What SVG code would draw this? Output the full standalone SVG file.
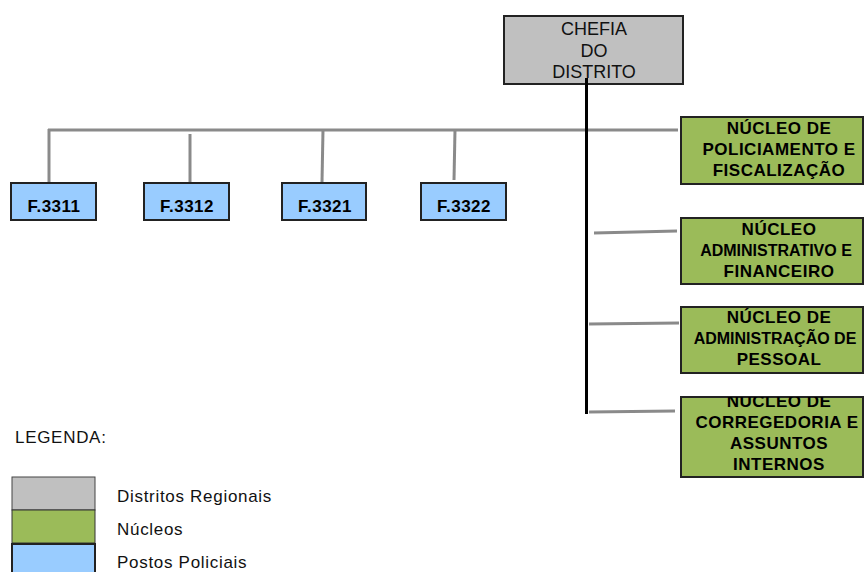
<svg xmlns="http://www.w3.org/2000/svg" width="864" height="572" viewBox="0 0 864 572">
<style>
.gray{fill:#c0c0c0;stroke:#222;stroke-width:2}
.green{fill:#9bbb59;stroke:#222;stroke-width:2}
.blue{fill:#99ccff;stroke:#222;stroke-width:2}
.bt{font-family:"Liberation Sans",Arial,sans-serif;font-weight:bold;font-size:17px;letter-spacing:0.5px;fill:#000;text-anchor:middle}
.nw{font-size:16px;letter-spacing:0}
.rt{font-family:"Liberation Sans",Arial,sans-serif;font-size:18px;fill:#111;text-anchor:middle}
.lt{font-family:"Liberation Sans",Arial,sans-serif;font-size:17px;letter-spacing:0.7px;fill:#111}
.conn{stroke:#8a8a8a;stroke-width:3;fill:none}
.main{stroke:#000;stroke-width:3;fill:none}
</style>
<defs>
<clipPath id="c4"><rect x="681" y="397" width="183" height="80"/></clipPath>
</defs>
<g id="connectors">
<line class="conn" x1="48" y1="130" x2="678" y2="130"/>
<line class="conn" x1="49" y1="129" x2="49" y2="183"/>
<line class="conn" x1="190" y1="134" x2="190" y2="183"/>
<line class="conn" x1="323" y1="130" x2="322" y2="182"/>
<line class="conn" x1="455" y1="130" x2="454" y2="180"/>
<line class="conn" x1="594" y1="233" x2="677" y2="231"/>
<line class="conn" x1="589" y1="324" x2="679" y2="323"/>
<line class="conn" x1="589" y1="412" x2="675" y2="411"/>
<line class="main" x1="586.5" y1="78" x2="586.5" y2="414"/>
</g>
<g id="chefia">
<rect class="gray" x="504" y="16" width="179" height="68"/>
<text class="rt" x="594" y="35">CHEFIA</text>
<text class="rt" x="594" y="57">DO</text>
<text class="rt" x="594" y="78">DISTRITO</text>
</g>
<line class="main" x1="586.5" y1="78" x2="586.5" y2="86"/>
<g id="f3311">
<rect class="blue" x="11" y="183" width="85" height="37"/>
<text class="bt" x="54" y="212">F.3311</text>
</g>
<g id="f3312">
<rect class="blue" x="144" y="183" width="85" height="37"/>
<text class="bt" x="187" y="212">F.3312</text>
</g>
<g id="f3321">
<rect class="blue" x="282" y="183" width="84" height="37"/>
<text class="bt" x="325" y="212">F.3321</text>
</g>
<g id="f3322">
<rect class="blue" x="421" y="183" width="85" height="37"/>
<text class="bt" x="464" y="212">F.3322</text>
</g>
<g id="nucleo1">
<rect class="green" x="681" y="117" width="182" height="67"/>
<text class="bt" x="779" y="134">NÚCLEO DE</text>
<text class="bt" x="779" y="155">POLICIAMENTO E</text>
<text class="bt" x="779" y="176">FISCALIZAÇÃO</text>
</g>
<g id="nucleo2">
<rect class="green" x="681" y="218" width="182" height="66"/>
<text class="bt" x="779" y="235">NÚCLEO</text>
<text class="bt nw" x="776" y="256">ADMINISTRATIVO E</text>
<text class="bt" x="779" y="277">FINANCEIRO</text>
</g>
<g id="nucleo3">
<rect class="green" x="681" y="307" width="182" height="66"/>
<text class="bt" x="779" y="323">NÚCLEO DE</text>
<text class="bt nw" x="775" y="344">ADMINISTRAÇÃO DE</text>
<text class="bt" x="779" y="365">PESSOAL</text>
</g>
<g id="nucleo4">
<rect class="green" x="681" y="397" width="182" height="80"/>
<g clip-path="url(#c4)">
<text class="bt" x="779" y="407">NÚCLEO DE</text>
<text class="bt" x="777" y="428">CORREGEDORIA E</text>
<text class="bt" x="779" y="449">ASSUNTOS</text>
<text class="bt" x="779" y="470">INTERNOS</text>
</g>
</g>
<g id="legend">
<text class="lt" x="15" y="443">LEGENDA:</text>
<rect x="12" y="477" width="83" height="33" fill="#c0c0c0" stroke="#444" stroke-width="1"/>
<rect x="12" y="510" width="83" height="33" fill="#9bbb59" stroke="#333" stroke-width="1"/>
<rect x="12" y="544" width="83" height="40" fill="#99ccff" stroke="#222" stroke-width="2"/>
<text class="lt" x="117" y="502">Distritos Regionais</text>
<text class="lt" x="117" y="535">Núcleos</text>
<text class="lt" x="117" y="568">Postos Policiais</text>
</g>
</svg>
